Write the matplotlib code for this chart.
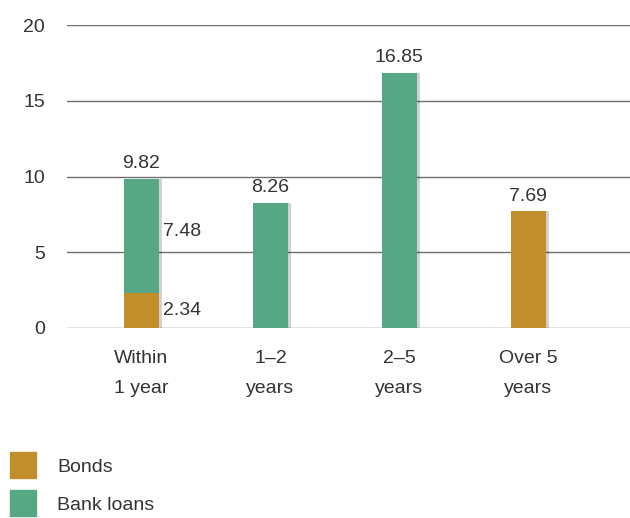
import matplotlib as mpl
mpl.use("Agg")
import matplotlib.pyplot as plt
import matplotlib.patheffects as pe
from matplotlib.lines import Line2D
import numpy as np

# Debt maturity profile
categories = ["Within\n1 year", "1\u20132\nyears", "2\u20135\nyears", "Over 5\nyears"]
bonds = [2.34, 0, 0, 7.69]
bank_loans = [7.48, 8.26, 16.85, 0]
totals = [9.82, 8.26, 16.85, 7.69]

BOND_COLOR = "#C08F2C"
LOAN_COLOR = "#55A883"
TEXT_COLOR = "#333333"
FS = 14

plt.rcParams["font.family"] = ["Liberation Sans", "DejaVu Sans"]

fig = plt.figure(figsize=(6.3, 5.18), dpi=100)
ax = fig.add_axes([67 / 630, 1 - 328 / 518, 1 - 67 / 630, (328 - 25) / 518])

x = np.arange(len(categories))
shadow = [pe.SimplePatchShadow(offset=(2.5, 0), shadow_rgbFace="#000000", alpha=0.18), pe.Normal()]

# grid lines behind the bars
for v in [0, 5, 10, 15, 20]:
    ax.axhline(v, color="#6f6f6f", lw=1.0, zorder=0)

b1 = ax.bar(x, bonds, width=0.27, color=BOND_COLOR, zorder=2)
b2 = ax.bar(x, bank_loans, width=0.27, bottom=bonds, color=LOAN_COLOR, zorder=2)
for bar in list(b1) + list(b2):
    if bar.get_height() > 0:
        bar.set_path_effects(shadow)

# total labels above bars
for xi, t in zip(x, totals):
    ax.text(xi, t + 0.45, "%.2f" % t, ha="center", va="bottom", fontsize=FS, color=TEXT_COLOR)

# segment labels for the split bar
ax.text(x[0] + 0.17, bonds[0] / 2, "%.2f" % bonds[0], ha="left", va="center", fontsize=FS, color=TEXT_COLOR)
ax.text(x[0] + 0.17, bonds[0] + bank_loans[0] / 2 + 0.3, "%.2f" % bank_loans[0], ha="left", va="center",
        fontsize=FS, color=TEXT_COLOR)

ax.set_xlim(-0.578, 3.79)
ax.set_ylim(0, 20)
ax.set_yticks([0, 5, 10, 15, 20])
ax.set_xticks(x)
ax.set_xticklabels(categories, linespacing=2.0)
ax.tick_params(axis="both", length=0, labelsize=FS, labelcolor=TEXT_COLOR)
ax.tick_params(axis="y", pad=16)
ax.tick_params(axis="x", pad=16)
for s in ax.spines.values():
    s.set_visible(False)

handles = [Line2D([], [], marker="s", ls="none", markersize=19, color=BOND_COLOR),
           Line2D([], [], marker="s", ls="none", markersize=19, color=LOAN_COLOR)]
fig.legend(handles, ["Bonds", "Bank loans"], loc="upper left", bbox_to_anchor=(0.006, 0.116),
           frameon=False, fontsize=FS, labelcolor=TEXT_COLOR, handletextpad=0.75,
           labelspacing=1.05, borderaxespad=0, borderpad=0)

fig.savefig("out.png", dpi=100)
